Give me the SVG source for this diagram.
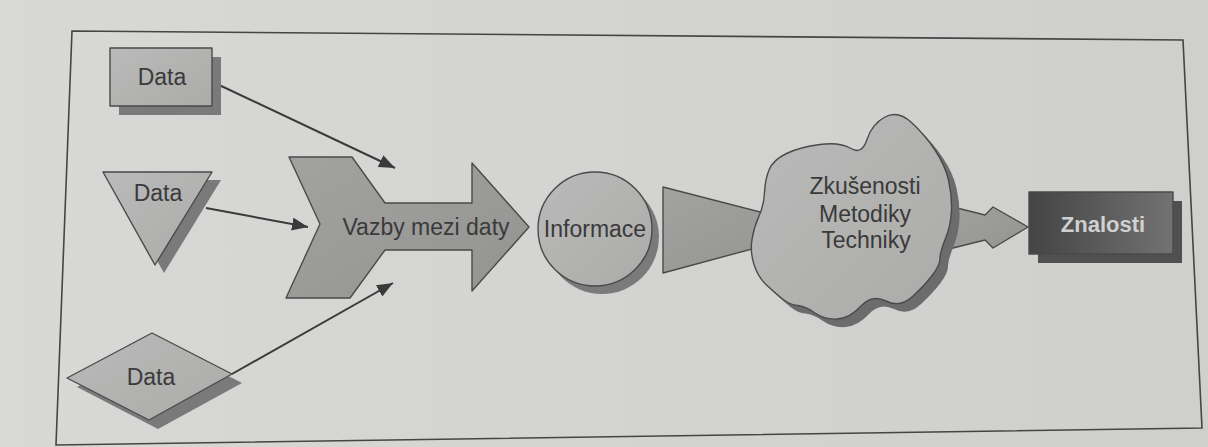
<svg xmlns="http://www.w3.org/2000/svg" width="1208" height="447" viewBox="0 0 1208 447">
  <defs>
    <style>
      .frame { fill: none; stroke: #454545; stroke-width: 1.6; }
      .shape { stroke: #4a4a4a; stroke-width: 1.4; stroke-linejoin: round; }
      .shadow { fill: #7a7a7a; stroke: none; }
      .lbl { font-family: "Liberation Sans", Arial, sans-serif; font-size: 23px; fill: #3a3a3a; text-anchor: middle; }
      .lbl-light { font-family: "Liberation Sans", Arial, sans-serif; font-size: 22px; font-weight: bold; fill: #d0d0d0; text-anchor: middle; }
      .conn { fill: none; stroke: #3a3a3a; stroke-width: 2; }
    </style>
    <linearGradient id="paper" x1="0" y1="0" x2="1" y2="0">
      <stop offset="0" stop-color="#d8d8d6"/>
      <stop offset="1" stop-color="#cfcfcd"/>
    </linearGradient>
    <linearGradient id="light" x1="0" y1="0" x2="1" y2="1">
      <stop offset="0" stop-color="#bababa"/>
      <stop offset="1" stop-color="#ababa9"/>
    </linearGradient>
    <linearGradient id="mid" x1="0" y1="0" x2="1" y2="1">
      <stop offset="0" stop-color="#a2a2a0"/>
      <stop offset="1" stop-color="#939391"/>
    </linearGradient>
    <linearGradient id="dark" x1="0" y1="0" x2="1" y2="0">
      <stop offset="0" stop-color="#444444"/>
      <stop offset="1" stop-color="#727272"/>
    </linearGradient>
    <marker id="head" markerUnits="userSpaceOnUse" markerWidth="17" markerHeight="13" refX="16" refY="6.5" orient="auto">
      <path d="M0,0 L16,6.5 L0,13 Z" fill="#3a3a3a"/>
    </marker>
  </defs>

  <!-- page and outer frame -->
  <rect x="0" y="0" width="1208" height="447" fill="url(#paper)"/>
  <polygon class="frame" points="72,31 1183,40 1202,428 56,445"/>

  <!-- connectors from the data sources -->
  <g id="connectors">
    <line class="conn" x1="217" y1="84" x2="395" y2="168" marker-end="url(#head)"/>
    <line class="conn" x1="206" y1="208" x2="308" y2="227" marker-end="url(#head)"/>
    <line class="conn" x1="232" y1="374" x2="393" y2="283" marker-end="url(#head)"/>
  </g>

  <g id="data-rect">
    <rect class="shadow" x="119" y="57" width="102" height="58"/>
    <rect class="shape" x="110" y="48" width="102" height="58" fill="url(#light)"/>
    <text class="lbl" x="162" y="85">Data</text>
  </g>

  <g id="data-triangle">
    <polygon class="shadow" points="112,180 221,180 164,273"/>
    <polygon class="shape" points="103,172 212,172 155,265" fill="url(#light)"/>
    <text class="lbl" x="158" y="201">Data</text>
  </g>

  <g id="data-diamond">
    <polygon class="shadow" points="77,387 162,342 242,383 158,429"/>
    <polygon class="shape" points="67,378 152,333 232,374 149,420" fill="url(#light)"/>
    <text class="lbl" x="151" y="385">Data</text>
  </g>

  <g id="relations">
    <polygon class="shape" fill="url(#mid)" points="289,157 352,157 385,203 472,203 472,163 529,227 472,291 472,250 385,250 350,298 286,298 320,224"/>
    <text class="lbl" x="426" y="235">Vazby mezi daty</text>
  </g>

  <g id="information">
    <circle class="shadow" cx="602" cy="237" r="57"/>
    <circle class="shape" cx="595" cy="229" r="57" fill="url(#light)"/>
    <text class="lbl" x="595" y="237">Informace</text>
  </g>

  <g id="funnel">
    <polygon class="shape" fill="url(#mid)" points="663,187 826,229 663,273"/>
  </g>

  <g id="to-knowledge">
    <polygon class="shape" fill="url(#mid)" points="945,205 985,215 993,207 1028,227 993,248 985,240 945,250"/>
  </g>

  <g id="experience">
    <path fill="#6c6c6c" transform="translate(8,8)" d="M769,170 Q773,160 786.5,153.5 Q800,147 820,144.5 Q840,142 851,148.5 Q862,155 867,139.5 Q872,124 885,117 Q898,110 911.5,122.5 Q925,135 935,150 Q945,165 948.5,180 Q952,195 951.5,210 Q951,225 945.5,238.5 Q940,252 940,258.5 Q940,265 932.5,275 Q925,285 912.5,296.5 Q900,308 886,301 Q872,294 861,306 Q850,318 837.5,319 Q825,320 815,313 Q805,306 797.5,305.5 Q790,305 782.5,299 Q775,293 766.5,285 Q758,277 754,264.5 Q750,252 752,239.5 Q754,227 759,216 Q764,205 764.5,192.5 Q765,180 769,170 Z"/>
    <path class="shape" fill="url(#light)" d="M769,170 Q773,160 786.5,153.5 Q800,147 820,144.5 Q840,142 851,148.5 Q862,155 867,139.5 Q872,124 885,117 Q898,110 911.5,122.5 Q925,135 935,150 Q945,165 948.5,180 Q952,195 951.5,210 Q951,225 945.5,238.5 Q940,252 940,258.5 Q940,265 932.5,275 Q925,285 912.5,296.5 Q900,308 886,301 Q872,294 861,306 Q850,318 837.5,319 Q825,320 815,313 Q805,306 797.5,305.5 Q790,305 782.5,299 Q775,293 766.5,285 Q758,277 754,264.5 Q750,252 752,239.5 Q754,227 759,216 Q764,205 764.5,192.5 Q765,180 769,170 Z"/>
    <text class="lbl" x="865" y="194">Zkušenosti</text>
    <text class="lbl" x="865" y="222">Metodiky</text>
    <text class="lbl" x="866" y="248">Techniky</text>
  </g>

  <g id="knowledge">
    <rect x="1038" y="201" width="144" height="62" fill="#505050"/>
    <rect class="shape" x="1029" y="192" width="144" height="62" fill="url(#dark)" stroke="#333"/>
    <text class="lbl-light" x="1103" y="232">Znalosti</text>
  </g>
</svg>
